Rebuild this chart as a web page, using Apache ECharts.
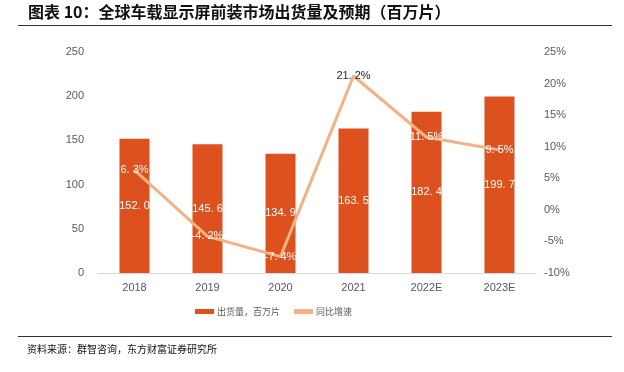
<!DOCTYPE html>
<html><head><meta charset="utf-8">
<script src="https://cdn.jsdelivr.net/npm/echarts@6/dist/echarts.min.js"></script>
<style>html,body{margin:0;padding:0;background:#fff;}#c{width:624px;height:372px;}</style>
</head><body><div id="c"></div>
<script>
var categories = ['2018','2019','2020','2021','2022E','2023E'];
var shipments = [152.0,145.6,134.9,163.5,182.4,199.7];
var growth = [6.3,-4.2,-7.4,21.2,11.5,9.5];
var leftTicks = [0,50,100,150,200,250];
var rightTicks = [-10,-5,0,5,10,15,20,25];

var chart = echarts.init(document.getElementById('c'));
var growthData = growth.map(function(v,i){
  return {value:v, label:{color: i===3 ? '#262626' : '#ffffff'}};
});
chart.setOption({
  animation:false,
  graphic:[
    {type:'text', left:28, top:4, style:{text:'图表 10：全球车载显示屏前装市场出货量及预期（百万片）', font:'bold 16px "Noto Sans CJK SC"', fill:'#111'}},
    {type:'line', shape:{x1:18,y1:25.5,x2:612,y2:25.5}, style:{stroke:'#333', lineWidth:1}},
    {type:'line', shape:{x1:18,y1:336.5,x2:612,y2:336.5}, style:{stroke:'#333', lineWidth:1}},
    {type:'text', left:27, top:344, style:{text:'资料来源：群智咨询，东方财富证券研究所', font:'10px "Noto Sans CJK SC"', fill:'#111'}}
  ],
  grid:{left:98, right:88, top:52, bottom:99},
  legend:{
    top:302, left:190, itemWidth:19, itemHeight:5, itemGap:14,
    textStyle:{fontSize:9, color:'#595959', fontFamily:'"Noto Sans CJK SC"', padding:[0,0,0,-2]},
    data:[{name:'出货量，百万片', icon:'rect'},{name:'同比增速', icon:'rect'}]
  },
  xAxis:{type:'category', data:categories,
    axisLine:{lineStyle:{color:'#d9d9d9', width:1}}, axisTick:{show:false},
    axisLabel:{color:'#595959', fontSize:11, fontFamily:'Arial', margin:9}},
  yAxis:[
    {type:'value', min:0, max:250, interval:50, splitLine:{show:false},
     axisLine:{show:false}, axisTick:{show:false},
     axisLabel:{color:'#595959', fontSize:11, fontFamily:'Arial', margin:14}},
    {type:'value', min:-10, max:25, interval:5, splitLine:{show:false},
     axisLine:{show:false}, axisTick:{show:false},
     axisLabel:{color:'#595959', fontSize:11, fontFamily:'Arial', formatter:'{value}%', margin:8}}
  ],
  series:[
    {name:'出货量，百万片', type:'bar', data:shipments, barWidth:30,
     itemStyle:{color:'#DD511E'},
     label:{show:true, position:'inside', color:'#fff', fontSize:11, fontFamily:'"Liberation Sans"', overflow:'none',
       formatter:function(p){return p.value.toFixed(1).replace('.', '. ');}}},
    {name:'同比增速', type:'line', yAxisIndex:1, data:growthData, z:3,
     symbol:'circle', symbolSize:1, showSymbol:true,
     lineStyle:{color:'#F4B183', width:3}, itemStyle:{color:'#F4B183'},
     label:{show:true, position:'inside', fontSize:11, fontFamily:'"Liberation Sans"', overflow:'none',
       formatter:function(p){return p.value.toFixed(1).replace('.', '. ')+'%';}}}
  ]
});
</script></body></html>
